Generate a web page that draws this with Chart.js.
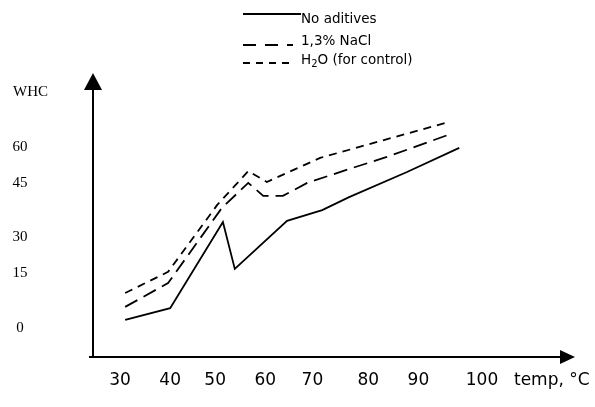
<!DOCTYPE html>
<html>
<head>
<meta charset="utf-8">
<script src="https://cdn.jsdelivr.net/npm/chart.js@4"></script>
<style>
  html, body { margin: 0; padding: 0; background: #fff; }
  #wrap { width: 595px; height: 407px; position: relative; }
</style>
</head>
<body>
<div id="wrap"><canvas id="whc-chart"></canvas></div>
<script>
// WHC vs temperature
const seriesNames = ['No aditives', '1,3% NaCl', 'H2O (for control)'];

const noAddTemp = [31.0, 39.7, 49.9, 52.2, 62.3, 69.1, 74.3, 85.5, 95.6];
const noAddWhc  = [2.7, 6.6, 35.1, 19.6, 35.5, 39.1, 43.4, 51.7, 59.7];

const naclTemp = [31.0, 39.3, 49.7, 54.8, 57.7, 61.5, 66.2, 74.3, 81.6, 94.4];
const naclWhc  = [7.0, 14.9, 39.8, 48.1, 43.8, 43.8, 48.1, 52.7, 56.7, 64.6];

const waterTemp = [31.0, 39.3, 48.8, 54.8, 58.4, 68.7, 93.0];
const waterWhc  = [11.6, 18.6, 40.8, 52.0, 48.4, 56.4, 68.0];

// tick labels (the drawing spaces them unevenly)
const xTickLabels = ['30', '40', '50', '60', '70', '80', '90', '100'];
const xTickAt     = [30, 39.7, 48.4, 58.1, 67.2, 78.0, 87.7, 100];
const yTickLabels = ['0', '15', '30', '45', '60'];
const yTickAt     = [0, 18.2, 30.2, 48.1, 60];

const toPoints = (xs, ys) => xs.map((x, i) => ({ x: x, y: ys[i] }));

const sansFont = '"DejaVu Sans", sans-serif';
const serifFont = '"Liberation Serif", "Times New Roman", serif';

// axes, arrows, tick labels and the legend are drawn by hand
const figurePlugin = {
    id: 'figure',
    afterDraw(chart) {
        const c = chart.ctx;
        const area = chart.chartArea;
        const xs = chart.scales.x;
        const ys = chart.scales.y;
        c.save();
        c.strokeStyle = '#000';
        c.fillStyle = '#000';
        c.lineWidth = 2;
        c.setLineDash([]);

        // y axis + arrow
        c.beginPath();
        c.moveTo(area.left, area.bottom);
        c.lineTo(area.left, area.top + 10);
        c.stroke();
        c.beginPath();
        c.moveTo(area.left, area.top);
        c.lineTo(area.left - 9, area.top + 17);
        c.lineTo(area.left + 9, area.top + 17);
        c.closePath();
        c.fill();

        // x axis + arrow
        c.beginPath();
        c.moveTo(area.left - 4, area.bottom);
        c.lineTo(area.right - 8, area.bottom);
        c.stroke();
        c.beginPath();
        c.moveTo(area.right, area.bottom);
        c.lineTo(area.right - 15, area.bottom - 7);
        c.lineTo(area.right - 15, area.bottom + 7);
        c.closePath();
        c.fill();

        // y tick labels
        c.font = '15px ' + serifFont;
        c.textAlign = 'center';
        c.textBaseline = 'middle';
        yTickLabels.forEach((lab, i) => {
            c.fillText(lab, 20, ys.getPixelForValue(yTickAt[i]));
        });
        c.textAlign = 'left';
        c.fillText('WHC', 13, 92);

        // x tick labels
        c.font = '17px ' + sansFont;
        c.textAlign = 'center';
        xTickLabels.forEach((lab, i) => {
            c.fillText(lab, xs.getPixelForValue(xTickAt[i]), 381);
        });
        c.textAlign = 'left';
        c.fillText('temp, °C', 514, 381);

        // legend
        const legX0 = 243, legX1 = 301;
        const rows = [
            { y: 14, ty: 23 },
            { y: 45, ty: 45 },
            { y: 63, ty: 64 }
        ];
        const legFont = '13.5px ' + sansFont;
        c.font = legFont;
        c.textBaseline = 'alphabetic';
        chart.data.datasets.forEach((ds, i) => {
            const r = rows[i];
            c.lineWidth = 2;
            c.setLineDash(ds.legendDash || []);
            c.beginPath();
            c.moveTo(legX0, r.y);
            c.lineTo(i === 0 ? legX1 : legX1 - 8, r.y);
            c.stroke();
            c.setLineDash([]);
            if (i === 2) {
                // H2O with a subscript 2
                let x = legX1;
                c.font = legFont;
                c.fillText('H', x, r.ty);
                x += c.measureText('H').width;
                c.font = '10px ' + sansFont;
                c.fillText('2', x, r.ty + 3);
                x += c.measureText('2').width;
                c.font = legFont;
                c.fillText('O (for control)', x, r.ty);
            } else {
                c.fillText(ds.label, legX1, r.ty);
            }
        });
        c.restore();
    }
};

const ctx = document.getElementById('whc-chart').getContext('2d');
new Chart(ctx, {
    type: 'line',
    data: {
        datasets: [{
            label: seriesNames[0],
            data: toPoints(noAddTemp, noAddWhc),
            borderColor: '#000',
            borderWidth: 1.8,
            pointRadius: 0,
            tension: 0,
            legendDash: []
        }, {
            label: seriesNames[1],
            data: toPoints(naclTemp, naclWhc),
            borderColor: '#000',
            borderWidth: 1.8,
            borderDash: [14, 7],
            pointRadius: 0,
            tension: 0,
            legendDash: [13, 9]
        }, {
            label: seriesNames[2],
            data: toPoints(waterTemp, waterWhc),
            borderColor: '#000',
            borderWidth: 1.8,
            borderDash: [8, 6],
            pointRadius: 0,
            tension: 0,
            legendDash: [7, 6]
        }]
    },
    options: {
        responsive: true,
        maintainAspectRatio: false,
        animation: false,
        layout: { padding: { left: 93, right: 20, top: 73, bottom: 50 } },
        scales: {
            x: { type: 'linear', min: 24.78, max: 117.98, display: false },
            y: { type: 'linear', min: -9.61, max: 84.53, display: false }
        },
        plugins: {
            legend: { display: false },
            tooltip: { enabled: false }
        }
    },
    plugins: [figurePlugin]
});
</script>
</body>
</html>
